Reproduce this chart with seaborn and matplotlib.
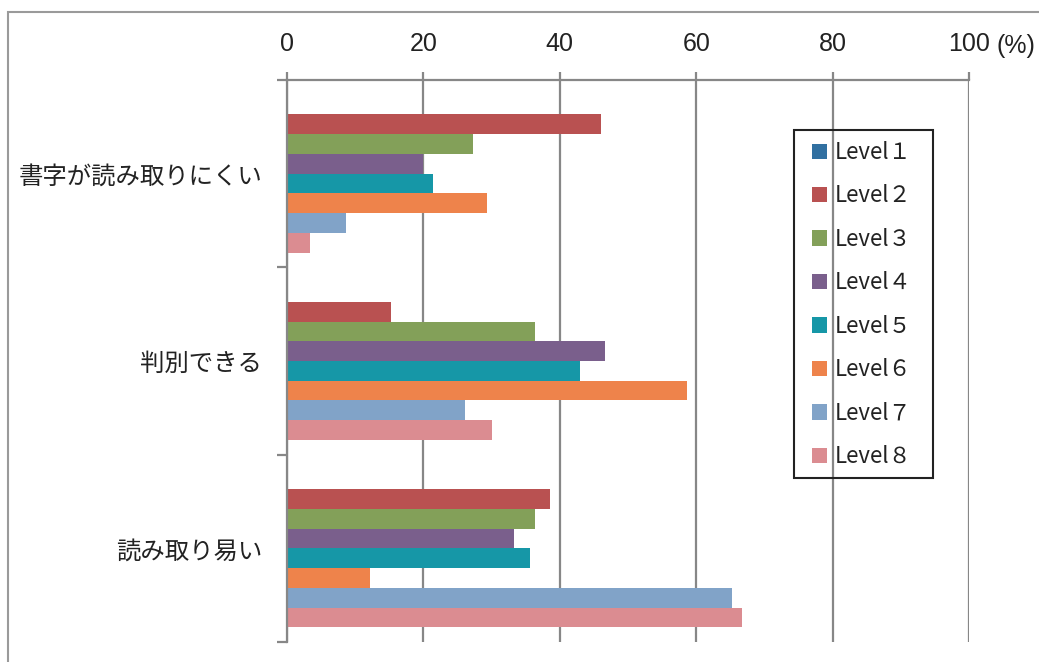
import matplotlib
matplotlib.use("Agg")
import matplotlib.pyplot as plt
from matplotlib.patches import Rectangle
from matplotlib.ticker import FixedLocator
import seaborn as sns
import pandas as pd

categories = ["書字が読み取りにくい", "判別できる", "読み取り易い"]
levels = ["Level１", "Level２", "Level３", "Level４", "Level５", "Level６", "Level７", "Level８"]
values_hard = [0, 46.1, 27.3, 20.0, 21.4, 29.3, 8.7, 3.3]
values_readable = [0, 15.3, 36.4, 46.7, 42.9, 58.6, 26.1, 30.0]
values_easy = [0, 38.5, 36.4, 33.3, 35.7, 12.2, 65.3, 66.7]
colors = ["#3170A1", "#B95151", "#83A059", "#7A5F8C", "#1697A7", "#EE834B", "#81A3C8", "#DB8C91"]
xticks = [0, 20, 40, 60, 80, 100]
xtick_labels = ["0", "20", "40", "60", "80", "100"]

rows = []
for cat, vals in zip(categories, [values_hard, values_readable, values_easy]):
    for lv, v in zip(levels, vals):
        rows.append({"category": cat, "level": lv, "value": v})
df = pd.DataFrame(rows)

sns.set_theme(style="white")
plt.rcParams["font.family"] = ["Noto Sans CJK JP", "DejaVu Sans"]

fig = plt.figure(figsize=(10.39, 6.62), dpi=100)
ax = fig.add_axes([287 / 1039, 1 - 642 / 662, (969 - 287) / 1039, (642 - 80) / 662])

sns.barplot(data=df, y="category", x="value", hue="level", orient="h",
            order=categories, hue_order=levels, palette=colors, saturation=1,
            width=0.843, linewidth=0, ax=ax, errorbar=None)

ax.set_xlim(0, 100)
ax.set_ylim(2.5, -0.5)
ax.set_xlabel("")
ax.set_ylabel("")

grid_c = "#878787"
ax.set_axisbelow(True)
ax.grid(axis="x", color=grid_c, linewidth=1.6)
ax.grid(axis="y", visible=False)

ax.xaxis.tick_top()
ax.set_xticks(xticks)
ax.set_xticklabels(xtick_labels, fontfamily=["Liberation Sans", "DejaVu Sans"], fontsize=18, color="#222222")
ax.tick_params(axis="x", which="major", direction="out", length=6, width=1.6, color=grid_c, pad=11, top=True, bottom=False)

ax.set_yticks(range(len(categories)))
ax.set_yticklabels(categories, fontsize=17.6, color="#222222")
ax.tick_params(axis="y", which="major", length=0, pad=18, left=True)
ax.yaxis.set_minor_locator(FixedLocator([-0.5, 0.5, 1.5, 2.5]))
ax.tick_params(axis="y", which="minor", direction="out", length=7, width=1.6, color=grid_c, left=True)

for s in ["right", "bottom"]:
    ax.spines[s].set_visible(False)
for s in ["top", "left"]:
    ax.spines[s].set_color(grid_c)
    ax.spines[s].set_linewidth(1.6)

fig.text(996 / 1039, 1 - 46 / 662, "(%)", ha="left", va="center",
         fontfamily=["Liberation Sans", "DejaVu Sans"], fontsize=18, color="#222222")

handles, labels = ax.get_legend_handles_labels()
if ax.get_legend() is not None:
    ax.get_legend().remove()
leg = fig.legend(handles, labels, loc="upper left", bbox_to_anchor=(812 / 1039, 1 - 141 / 662),
                 fontsize=16, frameon=False,
                 handlelength=0.68, handleheight=0.68, handletextpad=0.35,
                 labelspacing=0.92, borderpad=0, borderaxespad=0)
for t in leg.get_texts():
    t.set_color("#222222")

fig.add_artist(Rectangle((794 / 1039, 1 - 478 / 662), (933 - 794) / 1039, (478 - 130) / 662,
                         transform=fig.transFigure, fill=False, edgecolor="#222222", linewidth=1.5))

fig.add_artist(Rectangle((8 / 1039, -0.1), 1.2, 1 - 12 / 662 + 0.1, transform=fig.transFigure,
                         fill=False, edgecolor="#9a9a9a", linewidth=1.5))

fig.savefig("out.png", dpi=100)
